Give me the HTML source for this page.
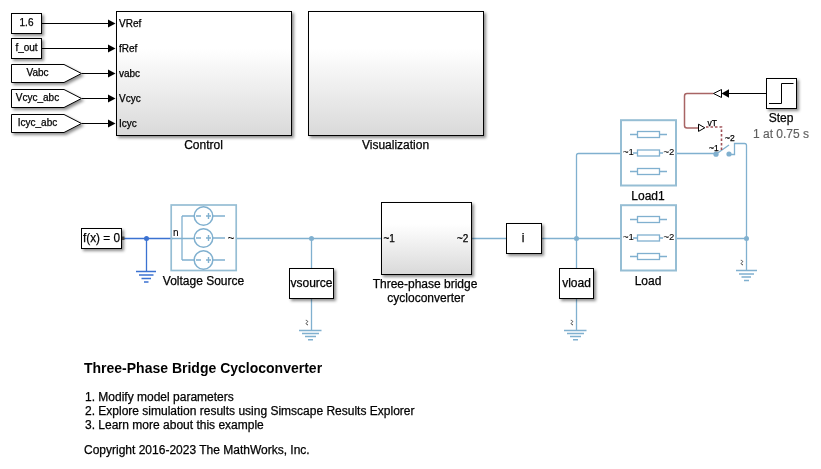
<!DOCTYPE html>
<html><head><meta charset="utf-8">
<style>
html,body{margin:0;padding:0;background:#fff;width:821px;height:469px;overflow:hidden}
svg{display:block;will-change:transform}
text{font-family:"Liberation Sans",sans-serif;fill:#000;stroke:#000;stroke-width:0.25px}
</style></head><body>
<svg width="821" height="469" viewBox="0 0 821 469">
<defs>
<filter id="sh" x="-20%" y="-20%" width="150%" height="150%">
<feDropShadow dx="2" dy="2" stdDeviation="1.5" flood-color="#000" flood-opacity="0.45"/>
</filter>
<linearGradient id="gr" x1="0" y1="0" x2="0" y2="1">
<stop offset="0" stop-color="#fff"/><stop offset="0.3" stop-color="#fff"/><stop offset="1" stop-color="#d9d9d9"/>
</linearGradient>
</defs>

<!-- ===== top-left sources ===== -->
<g fill="#fff" stroke="#000" stroke-width="1" filter="url(#sh)">
<rect x="11.5" y="13.5" width="30" height="20"/>
<rect x="11.5" y="38.5" width="30" height="20"/>
<path d="M11.5 64.5H64L81.5 73.5L64 82.5H11.5Z"/>
<path d="M11.5 89.5H64L81.5 98.5L64 107.5H11.5Z"/>
<path d="M11.5 114.5H64L81.5 123.5L64 132.5H11.5Z"/>
</g>
<g font-size="10" text-anchor="middle">
<text x="26.5" y="26">1.6</text>
<text x="26.5" y="51">f_out</text>
<text x="37.5" y="76">Vabc</text>
<text x="37.5" y="101">Vcyc_abc</text>
<text x="37.5" y="126">Icyc_abc</text>
</g>
<g stroke="#000" stroke-width="1">
<path d="M42 23.5H108M42 48.5H108M82 73.5H108M82 98.5H108M82 123.5H108"/>
</g>
<g fill="#000">
<path d="M108 19.5L115.5 23.5L108 27.5Z"/>
<path d="M108 44.5L115.5 48.5L108 52.5Z"/>
<path d="M108 69.5L115.5 73.5L108 77.5Z"/>
<path d="M108 94.5L115.5 98.5L108 102.5Z"/>
<path d="M108 119.5L115.5 123.5L108 127.5Z"/>
</g>

<!-- ===== Control & Visualization ===== -->
<g fill="url(#gr)" stroke="#000" stroke-width="1" filter="url(#sh)">
<rect x="116.5" y="11.5" width="175" height="124"/>
<rect x="308.5" y="11.5" width="175" height="124"/>
</g>
<g font-size="10">
<text x="119" y="27">VRef</text>
<text x="119" y="52">fRef</text>
<text x="119" y="77">vabc</text>
<text x="119" y="102">Vcyc</text>
<text x="119" y="127">Icyc</text>
</g>
<g font-size="12" text-anchor="middle">
<text x="203.5" y="149">Control</text>
<text x="395.5" y="149">Visualization</text>
</g>

<!-- ===== physical network ===== -->
<!-- f(x)=0 solver + blue ground -->
<g stroke="#3b72d1" stroke-width="1.3" fill="none">
<path d="M124 238.5H172.5"/>
<path d="M146.5 238.5V271.5"/>
<path d="M136 271.5H156M139 275H153.5M141.5 278.5H151M144 282H148.5" stroke-width="1.5"/>
</g>
<circle cx="146.5" cy="238.5" r="2.5" fill="#3b72d1"/>
<rect x="122" y="236.5" width="2.5" height="3.5" fill="#666"/>
<rect x="81.5" y="228.5" width="40" height="20" fill="#fff" stroke="#000" stroke-width="1" filter="url(#sh)"/>
<text x="101.5" y="242" font-size="13" text-anchor="middle" textLength="37" lengthAdjust="spacingAndGlyphs">f(x) = 0</text>

<!-- Voltage source -->
<g stroke="#96bed4" fill="none">
<rect x="171.2" y="205" width="65" height="65.5" stroke-width="1.7"/>
</g>
<g stroke="#80b0cf" fill="none" stroke-width="1.3">
<circle cx="203.5" cy="216" r="9.3" stroke-width="1.5"/>
<circle cx="203.5" cy="238" r="9.3" stroke-width="1.5"/>
<circle cx="203.5" cy="260" r="9.3" stroke-width="1.5"/>
<path d="M182 216V260M182 216H194M182 260H194M172 238.5H194M213 216H225M213 238H225M213 260H225"/>
<path d="M196 216H201M206 216H211M208.5 213V219M196 238H201M206 238H211M208.5 235V241M196 260H201M206 260H211M208.5 257V263" stroke-width="1.4"/>
</g>
<text x="173" y="236" font-size="10" style="stroke-width:0.1">n</text>
<text x="227.5" y="242" font-size="12" style="stroke-width:0">~</text>
<text x="203.5" y="285" font-size="12" text-anchor="middle">Voltage Source</text>

<!-- main light-blue lines -->
<g stroke="#80b0cf" stroke-width="1.3" fill="none">
<path d="M237 238.5H381"/>
<path d="M311.5 238.5V268"/>
<path d="M311.5 298.5V330.5"/>
<path d="M471 238.5H506.5"/>
<path d="M541.5 238.5H621"/>
<path d="M576.5 298.5V330.5"/>
<path d="M576.5 268V155.5Q576.5 153.5 578.5 153.5H621"/>
<path d="M676 238.5H746.5"/>
<path d="M676 153.5H716"/>
<path d="M746.5 270.5V145.5Q746.5 143.5 744.5 143.5H734.5V154.5H729"/>
<path d="M717 153.5L729 145" />
<path d="M736 270.5H757M739 274H754M741.5 277H751M744 280.5H749" stroke-width="1.5"/>
<path d="M299 330.5H321.5M302 333.5H319M305 336.5H316M308 339.8H313" stroke-width="1.5"/>
<path d="M564 330.5H586.5M567 333.5H584M570 336.5H581M573 339.8H578" stroke-width="1.5"/>
</g>
<g fill="#80b0cf">
<circle cx="311.5" cy="238.5" r="2.5"/>
<circle cx="576.5" cy="238.5" r="2.5"/>
<circle cx="746.5" cy="238.5" r="2.5"/>
<circle cx="716" cy="154.2" r="2.6"/>
<circle cx="729" cy="154" r="2.6"/>
</g>

<g stroke="#333" stroke-width="0.9" fill="none">
<path d="M305.8 320.3C308.2 320.5 307.9 322 306.8 322.6C305.7 323.3 306 324.7 308 324.9"/>
<path d="M570.8 320.3C573.2 320.5 572.9 322 571.8 322.6C570.7 323.3 571 324.7 573 324.9"/>
<path d="M740.8 260.3C743.2 260.5 742.9 262 741.8 262.6C740.7 263.3 741 264.7 743 264.9"/>
</g>
<!-- vsource / i / vload -->
<g fill="#fff" stroke="#000" stroke-width="1" filter="url(#sh)">
<rect x="289.5" y="268.5" width="44" height="30"/>
<rect x="506.5" y="223.5" width="35" height="30"/>
<rect x="559.5" y="268.5" width="34" height="30"/>
</g>
<g font-size="12" text-anchor="middle">
<text x="311.5" y="287">vsource</text>
<text x="523" y="242">i</text>
<text x="576.5" y="287">vload</text>
</g>

<!-- three-phase bridge -->
<rect x="381.5" y="202.5" width="90" height="72" fill="url(#gr)" stroke="#000" stroke-width="1" filter="url(#sh)"/>
<g font-size="10">
<text x="383.5" y="242">~1</text>
<text x="457" y="242">~2</text>
</g>
<g font-size="12" text-anchor="middle">
<text x="425" y="288">Three-phase bridge</text>
<text x="426" y="301.5">cycloconverter</text>
</g>

<!-- Loads -->
<g id="load">
<rect x="621" y="120.2" width="55" height="65.3" stroke="#96bed4" stroke-width="2" fill="none"/>
<g stroke="#80b0cf" stroke-width="1.3" fill="none">
<rect x="637.5" y="131.5" width="22" height="6"/>
<rect x="637.5" y="150" width="22" height="6"/>
<rect x="637.5" y="168.5" width="22" height="6"/>
<path d="M630 134.5H637.5M659.5 134.5H667M630 171.5H637.5M659.5 171.5H667M633 153H637.5M659.5 153H663"/>
</g>
<text x="623" y="155.3" font-size="9.5" style="stroke-width:0.1">~1</text>
<text x="663.5" y="155.3" font-size="9.5" style="stroke-width:0.1">~2</text>
</g>
<use href="#load" y="85"/>
<text x="648" y="200" font-size="12" text-anchor="middle">Load1</text>
<text x="648" y="285" font-size="12" text-anchor="middle">Load</text>

<!-- breaker / step -->
<path d="M713.5 93.5H687Q684.5 93.5 684.5 96V125.5Q684.5 128 687 128H698.5" stroke="#a86464" stroke-width="1.5" fill="none"/>
<path d="M706 127H721.5V150" stroke="#a05258" stroke-width="1.6" fill="none" stroke-dasharray="2.5 2"/>
<path d="M698.5 124.2L704.8 127.8L698.5 131.4Z" fill="#fff" stroke="#000" stroke-width="1"/>
<path d="M713.5 93.5L721.5 89.5V97.5Z" fill="#fff" stroke="#000" stroke-width="1"/>
<path d="M721.5 93.5L729 89.2V97.8Z" fill="#000"/>
<path d="M729 93.5H766.5" stroke="#000" stroke-width="1"/>
<g font-size="8.5" style="stroke-width:0">
<text x="707.5" y="126">vT</text>
<text x="725" y="141">~2</text>
<text x="709" y="151">~1</text>
</g>
<rect x="766.5" y="78.5" width="30" height="30" fill="#fff" stroke="#000" stroke-width="1" filter="url(#sh)"/>
<path d="M769 103.5H781.5V83.5H793.5" stroke="#000" stroke-width="1" fill="none"/>
<text x="781" y="122" font-size="12" text-anchor="middle">Step</text>
<text x="781" y="138" font-size="12" text-anchor="middle" style="fill:#5f5f5f;stroke:#5f5f5f;stroke-width:0.15">1 at 0.75 s</text>

<!-- ===== bottom text ===== -->
<text x="84" y="373" font-size="14" font-weight="bold" style="stroke-width:0">Three-Phase Bridge Cycloconverter</text>
<g font-size="12">
<text x="85" y="401">1. Modify model parameters</text>
<text x="85" y="415">2. Explore simulation results using Simscape Results Explorer</text>
<text x="85" y="429">3. Learn more about this example</text>
<text x="84" y="454">Copyright 2016-2023 The MathWorks, Inc.</text>
</g>
</svg>
</body></html>
